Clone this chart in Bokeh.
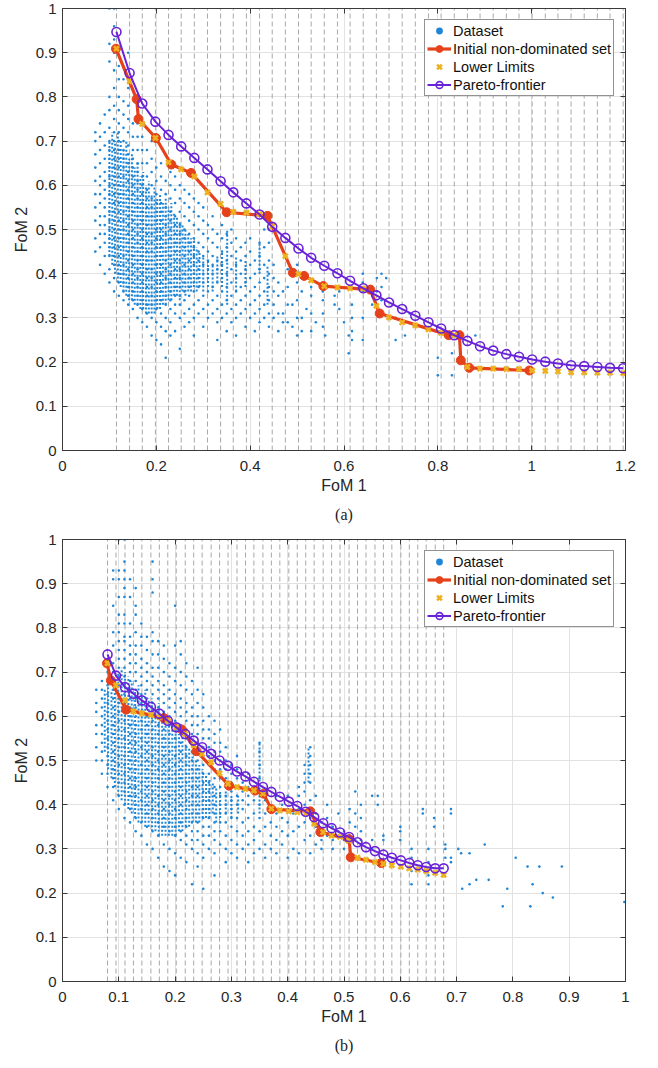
from bokeh.plotting import figure
from bokeh.models import (Range1d, LinearAxis, FixedTicker, CustomJSTickFormatter,
                          Legend, LegendItem, Title)
from bokeh.layouts import column
from bokeh.embed import file_html
from bokeh.resources import INLINE

# ---------------- Panel (a) data ----------------
A_LL_X = [0.115, 0.143, 0.170, 0.198, 0.226, 0.253, 0.281, 0.309, 0.337, 0.364,
          0.392, 0.420, 0.447, 0.475, 0.503, 0.530, 0.558, 0.586, 0.613, 0.641,
          0.669, 0.696, 0.724, 0.752, 0.780, 0.807, 0.835, 0.863, 0.890, 0.918,
          0.946, 0.973, 1.001, 1.029, 1.056, 1.084, 1.112, 1.140, 1.167, 1.195]
A_LL_Y = [0.909, 0.835, 0.739, 0.707, 0.652, 0.636, 0.620, 0.584, 0.558, 0.540,
          0.538, 0.535, 0.507, 0.440, 0.399, 0.385, 0.372, 0.369, 0.367, 0.366,
          0.327, 0.301, 0.290, 0.283, 0.274, 0.266, 0.261, 0.189, 0.185, 0.185,
          0.184, 0.184, 0.181, 0.180, 0.179, 0.177, 0.177, 0.176, 0.176, 0.175]
A_PF_Y = [0.947, 0.854, 0.785, 0.744, 0.714, 0.688, 0.662, 0.636, 0.609, 0.584,
          0.559, 0.534, 0.506, 0.481, 0.457, 0.436, 0.418, 0.401, 0.384, 0.367,
          0.351, 0.335, 0.320, 0.305, 0.290, 0.276, 0.261, 0.248, 0.236, 0.226,
          0.218, 0.212, 0.206, 0.201, 0.197, 0.193, 0.191, 0.189, 0.187, 0.186]
A_INIT_X = [0.114, 0.158, 0.162, 0.199, 0.232, 0.274, 0.350, 0.437, 0.491, 0.515,
            0.556, 0.656, 0.676, 0.823, 0.846, 0.849, 0.867, 0.995]
A_INIT_Y = [0.909, 0.795, 0.750, 0.707, 0.647, 0.628, 0.539, 0.531, 0.402, 0.395,
            0.372, 0.364, 0.310, 0.261, 0.261, 0.204, 0.187, 0.181]
# dataset, dense vertical runs of points: column x, lowest y, highest y
A_COL_X = [0.100, 0.106, 0.112, 0.118, 0.124, 0.130, 0.136, 0.142, 0.148, 0.154,
           0.160, 0.166, 0.172, 0.178, 0.184, 0.190, 0.196, 0.202, 0.208, 0.214,
           0.220, 0.226, 0.232, 0.238, 0.244, 0.250, 0.256, 0.262, 0.268, 0.274,
           0.280, 0.286, 0.292, 0.300, 0.310, 0.320, 0.330, 0.340, 0.351, 0.370,
           0.390, 0.420, 0.437]
A_COL_LO = [0.44, 0.42, 0.40, 0.38, 0.37, 0.36, 0.35, 0.34, 0.34, 0.33,
            0.33, 0.32, 0.32, 0.31, 0.31, 0.31, 0.31, 0.32, 0.32, 0.33,
            0.33, 0.34, 0.34, 0.35, 0.35, 0.34, 0.36, 0.35, 0.36, 0.36,
            0.37, 0.36, 0.37, 0.36, 0.37, 0.36, 0.38, 0.37, 0.33, 0.36,
            0.37, 0.40, 0.33]
A_COL_HI = [0.70, 0.72, 0.70, 0.72, 0.70, 0.68, 0.70, 0.66, 0.67, 0.64,
            0.65, 0.62, 0.63, 0.60, 0.61, 0.58, 0.60, 0.57, 0.58, 0.56,
            0.57, 0.55, 0.56, 0.54, 0.53, 0.52, 0.51, 0.50, 0.49, 0.48,
            0.48, 0.46, 0.45, 0.44, 0.43, 0.42, 0.44, 0.45, 0.50, 0.44,
            0.43, 0.47, 0.42]
# dataset, individual points: "x: y values in hundredths"
A_DATA = """
0.07: 45 48 52 55 58 61 64 67 70 72
0.08: 42 46 49 51 53 56 58 60 62 65 68 71 74
0.09: 40 44 47 49 51 53 55 57 59 61 63 66 69 72 76
0.10: 38 41 44 46 48 50 52 54 56 58 60 62 64 66 68 70 73 77 80 88 92 100
0.11: 36 39 42 44 46 48 50 52 54 56 58 60 62 64 66 68 70 72 75 78 82 86 90 93 96 100
0.12: 35 38 40 42 44 46 48 50 52 54 56 58 60 62 64 66 68 70 72 74 77 80 84 87 91
0.13: 34 36 38 40 42 44 46 48 50 52 54 56 58 60 62 64 66 68 70 73 76 79 84
0.14: 33 35 37 39 41 43 45 47 49 51 53 55 57 59 61 63 65 67 69 72 75 78 82 90
0.15: 32 34 36 38 40 42 44 46 48 50 52 54 56 58 60 62 64 66 68 71 74
0.16: 30 33 35 37 39 41 43 45 47 49 51 53 55 57 59 61 63 65 68 71 74 77
0.17: 29 32 34 36 38 40 42 44 46 48 50 52 54 56 58 60 62 65 68 71
0.18: 28 31 33 35 37 39 41 43 45 47 49 51 53 55 57 59 62 65 68
0.19: 26 30 33 35 37 39 41 43 45 47 49 51 53 55 57 60 63 66 70
0.20: 25 29 32 34 36 38 40 42 44 46 48 50 52 54 56 58 61 64
0.21: 24 28 31 34 36 38 40 42 44 46 48 50 52 54 56 59 62 65
0.22: 21 27 30 33 35 37 39 41 43 45 47 49 51 53 55 58 61
0.23: 26 29 32 34 36 38 40 42 44 46 48 50 52 54 57 60 63
0.24: 27 31 33 35 37 39 41 43 45 47 49 51 53 56 59 62
0.25: 23 30 33 35 37 39 41 43 45 47 49 51 54 57 60
0.26: 28 31 34 36 38 40 42 44 46 48 50 53 56 59
0.27: 29 32 35 37 39 41 43 45 47 49 52 55 58
0.28: 26 30 33 36 38 40 42 44 46 48 51 54 57
0.29: 31 34 37 39 41 43 45 47 50 53 56
0.30: 28 32 35 38 40 42 44 46 49 52 55
0.31: 30 33 36 39 41 43 45 48 51
0.32: 31 34 37 40 42 44 47 50 53
0.33: 25 29 32 35 38 41 43 46 49
0.34: 30 33 36 39 42 45 48 51
0.35: 27 31 34 37 40 43 46 49
0.36: 29 32 35 38 41 44 47 50
0.37: 26 30 33 36 39 42 45 48
0.38: 31 34 37 40 43 46
0.39: 28 32 35 38 41 44 47
0.40: 30 33 36 39 42 45 48
0.41: 27 31 34 37 40 43
0.42: 29 32 35 38 41 44 47
0.43: 30 33 36 39 42 46 50 53
0.44: 28 31 34 37 40 43 47 50 52
0.45: 30 33 36 39 42
0.46: 27 31 35 38
0.47: 36 31 29
0.48: 29 33 37 41
0.49: 33 28
0.50: 26 30 34 38 42
0.51: 36 30 27
0.52: 32
0.53: 37 35 31 27
0.54: 29
0.555: 36 34 31 28
0.56: 26
0.58: 35 33
0.59: 36 32
0.60: 29
0.61: 26 22
0.617: 33 30 27 25
0.64: 40 38 36 30 25
0.66: 33
0.67: 39 36
0.68: 40 37 34
0.69: 39
0.71: 30 25
0.73: 29 26
0.74: 31
0.80: 21 17
0.83: 22 17
0.88: 26
"""

# ---------------- Panel (b) data ----------------
B_LL_X = [0.080, 0.095, 0.111, 0.126, 0.141, 0.157, 0.172, 0.187, 0.202, 0.218,
          0.233, 0.248, 0.264, 0.279, 0.294, 0.310, 0.325, 0.340, 0.356, 0.371,
          0.386, 0.402, 0.417, 0.432, 0.447, 0.463, 0.478, 0.493, 0.509, 0.524,
          0.539, 0.555, 0.570, 0.585, 0.601, 0.616, 0.631, 0.646, 0.662, 0.677]
B_LL_Y = [0.720, 0.670, 0.636, 0.611, 0.607, 0.603, 0.598, 0.590, 0.575, 0.560,
          0.534, 0.515, 0.496, 0.471, 0.447, 0.440, 0.436, 0.432, 0.425, 0.391,
          0.387, 0.385, 0.383, 0.381, 0.357, 0.338, 0.330, 0.327, 0.319, 0.280,
          0.275, 0.270, 0.266, 0.263, 0.260, 0.256, 0.253, 0.250, 0.246, 0.241]
B_PF_Y = [0.740, 0.692, 0.666, 0.651, 0.636, 0.621, 0.606, 0.590, 0.575, 0.560,
          0.545, 0.530, 0.515, 0.500, 0.488, 0.475, 0.464, 0.452, 0.440, 0.429,
          0.418, 0.407, 0.397, 0.384, 0.372, 0.358, 0.347, 0.337, 0.327, 0.315,
          0.304, 0.295, 0.287, 0.280, 0.274, 0.268, 0.263, 0.259, 0.256, 0.256]
B_INIT_X = [0.079, 0.086, 0.113, 0.180, 0.212, 0.238, 0.296, 0.342, 0.357, 0.371,
            0.440, 0.458, 0.509, 0.512, 0.566]
B_INIT_Y = [0.720, 0.681, 0.615, 0.596, 0.570, 0.521, 0.443, 0.432, 0.425, 0.390,
            0.385, 0.338, 0.322, 0.281, 0.268]
B_COL_X = [0.075, 0.081, 0.087, 0.093, 0.099, 0.105, 0.111, 0.117, 0.123, 0.129,
           0.135, 0.141, 0.147, 0.153, 0.159, 0.165, 0.171, 0.177, 0.183, 0.189,
           0.195, 0.201, 0.207, 0.213, 0.219, 0.225, 0.231, 0.237, 0.243, 0.249,
           0.255, 0.261, 0.267, 0.273, 0.280, 0.290, 0.300, 0.312, 0.350, 0.437]
B_COL_LO = [0.52, 0.48, 0.46, 0.44, 0.42, 0.41, 0.40, 0.39, 0.38, 0.37,
            0.36, 0.36, 0.35, 0.35, 0.34, 0.34, 0.33, 0.33, 0.33, 0.33,
            0.33, 0.33, 0.34, 0.34, 0.35, 0.35, 0.36, 0.36, 0.36, 0.37,
            0.37, 0.37, 0.38, 0.36, 0.37, 0.38, 0.37, 0.38, 0.38, 0.45]
B_COL_HI = [0.66, 0.68, 0.66, 0.68, 0.70, 0.71, 0.70, 0.69, 0.68, 0.66,
            0.67, 0.65, 0.66, 0.64, 0.64, 0.62, 0.63, 0.61, 0.60, 0.60,
            0.58, 0.58, 0.56, 0.56, 0.54, 0.53, 0.52, 0.50, 0.49, 0.48,
            0.47, 0.46, 0.45, 0.44, 0.43, 0.43, 0.42, 0.42, 0.54, 0.53]
B_DATA = """
0.06: 50 53 56 58 61 63 66
0.07: 47 50 52 54 56 58 60 62 64 66 68
0.08: 44 47 49 51 53 55 57 59 61 63 65 67 70 72
0.09: 41 44 46 48 50 52 54 56 58 60 62 64 66 68 70 72 76 79 85 91 93
0.10: 39 42 45 47 49 51 53 55 57 59 61 63 65 67 69 71 73 75 77 79 81 83 87 91 93 100
0.11: 37 40 43 45 47 49 51 53 55 57 59 61 63 65 67 69 71 73 75 77 78 81 83 87 89 91 93 95 100
0.12: 36 39 42 44 46 48 50 52 54 56 58 60 62 64 66 68 70 72 74 76 78 81 87 91
0.13: 34 37 40 42 44 46 48 50 52 54 56 58 60 62 64 66 68 70 72 74 76 79 83 85 89
0.14: 33 36 39 41 43 45 47 49 51 53 55 57 59 61 63 65 67 69 71 73 76 78 81
0.15: 31 35 38 40 42 44 46 48 50 52 54 56 58 60 62 64 66 68 70 72 75 78
0.16: 30 34 37 39 41 43 45 47 49 51 53 55 57 59 61 63 65 67 69 71 74 77 79 88 91 95
0.17: 28 33 36 38 40 42 44 46 48 50 52 54 56 58 60 62 64 66 68 71 74 77
0.18: 26 31 35 37 39 41 43 45 47 49 51 53 55 57 59 61 63 65 67 70 73 76
0.19: 25 30 34 36 38 40 42 44 46 48 50 52 54 56 58 60 62 64 66 69 72
0.20: 24 29 33 35 37 39 41 43 45 47 49 51 53 55 57 59 61 63 65 68 71 76 85
0.21: 28 32 34 36 38 40 42 44 46 48 50 52 54 56 58 60 62 64 67 70 74 77
0.22: 27 31 33 35 37 39 41 43 45 47 49 51 53 55 57 59 61 63 66 69 72
0.23: 22 30 32 34 36 38 40 42 44 46 48 50 52 54 56 58 60 62 65 68
0.24: 26 29 32 34 36 38 40 42 44 46 48 50 52 54 56 58 60 63 66 71
0.25: 21 28 31 33 35 37 39 41 43 45 47 49 51 53 55 57 59 62 65
0.26: 30 33 35 37 39 41 43 45 47 49 51 53 55 57 60
0.27: 24 29 32 34 36 38 40 42 44 46 48 50 52 54 56 59
0.28: 31 34 36 38 40 42 44 46 48 50 52 54 57
0.29: 27 30 33 36 38 40 42 44 46 48 50 53
0.30: 29 32 35 37 39 41 43 45 47 49
0.31: 28 31 34 37 40 42 44 46 48 51
0.32: 30 33 36 39 41 43 45 47
0.33: 27 31 34 37 40 42 44 47
0.34: 29 32 35 38 41 44
0.35: 30 34 37 40 43 46 49 52 54
0.36: 28 31 35 38 41
0.37: 30 33 36 39
0.38: 29 32 35 38 42
0.39: 31 34 37 40
0.40: 28 33 36 39 42
0.41: 30 34 38
0.42: 29 35 39 42 44
0.43: 32 36 40 43 45 47 49
0.44: 29 33 37 41 45 47 49 51 53
0.45: 31 35 38 42
0.46: 30 32 34 36
0.47: 33 37 40
0.48: 30 32 35
0.49: 34 38
0.50: 30 32 34
0.51: 33 36 39
0.52: 32 35 38 43
0.53: 32 34 37 40
0.55: 30 32 42
0.56: 40 42
0.57: 32 33
0.60: 32 34 35
0.62: 22 25 28 30
0.64: 38 39
0.65: 22 24 27 30
0.66: 35 37
0.68: 28 30 31
0.69: 27 28 38 39
0.703: 30
0.708: 29
0.71: 21
0.723: 29 22
0.735: 23
0.75: 31
0.757: 23
0.782: 17
0.79: 21
0.805: 28
0.826: 26
0.831: 17
0.835: 22
0.847: 26
0.853: 20
0.871: 19
0.887: 26
0.998: 18
"""

BLUE = "#1f86d6"
RED = "#e5421b"
YEL = "#edb120"
PUR = "#6a22d8"
AX = "#3a3a3a"
FONT = "Liberation Sans"


def parse(txt):
    xs, ys = [], []
    for line in txt.strip().splitlines():
        xv, vals = line.split(":")
        for v in vals.split():
            xs.append(float(xv))
            ys.append(int(v) / 100.0)
    return xs, ys


def tick_fmt():
    return CustomJSTickFormatter(code="return String(Math.round(tick*10)/10);")


def panel(xmax, xticks, ll_x, ll_y, pf_y, init_x, init_y, col_x, col_lo, col_hi,
          data, caption, height, btop, bright, bbottom):
    dx, dy = parse(data)
    p = figure(width=658, height=height, output_backend="svg", toolbar_location=None,
               x_range=Range1d(0, xmax), y_range=Range1d(0, 1),
               min_border_left=62, min_border_right=bright, min_border_top=btop,
               min_border_bottom=bbottom)
    p.background_fill_color = "white"
    p.outline_line_color = AX
    p.outline_line_width = 1

    yticks = [0, 0.1, 0.2, 0.3, 0.4, 0.5, 0.6, 0.7, 0.8, 0.9, 1.0]
    for ax, tk in ((p.xaxis[0], xticks), (p.yaxis[0], yticks)):
        ax.ticker = FixedTicker(ticks=tk)
        ax.formatter = tick_fmt()
        ax.major_tick_in = 5
        ax.major_tick_out = 0
        ax.minor_tick_line_color = None
        ax.axis_line_color = AX
        ax.major_tick_line_color = AX
        ax.major_label_text_font = FONT
        ax.major_label_text_font_size = "15px"
        ax.major_label_text_color = "#262626"
        ax.axis_label_text_font = FONT
        ax.axis_label_text_font_size = "16px"
        ax.axis_label_text_font_style = "normal"
        ax.axis_label_text_color = "#262626"
    p.xaxis.axis_label = "FoM 1"
    p.yaxis.axis_label = "FoM 2"
    p.xaxis.major_label_standoff = 10
    p.xaxis.axis_label_standoff = 3
    p.yaxis.major_label_standoff = 6
    p.yaxis.axis_label_standoff = 3

    # box ticks on the top and right sides (no labels)
    for loc, tk in (("above", xticks), ("right", yticks)):
        ax = LinearAxis(ticker=FixedTicker(ticks=tk), formatter=tick_fmt(),
                        major_label_text_font_size="1px", major_label_text_color=None,
                        major_label_standoff=0,
                        major_tick_in=5, major_tick_out=0,
                        minor_tick_line_color=None, axis_line_color=AX,
                        major_tick_line_color=AX)
        p.add_layout(ax, loc)

    p.xgrid.ticker = FixedTicker(ticks=xticks)
    p.ygrid.ticker = FixedTicker(ticks=yticks)
    p.xgrid.grid_line_color = "#e2e2e2"
    p.ygrid.grid_line_color = "#e2e2e2"

    # vertical dashed lines at the lower-limit positions
    p.segment(x0=ll_x, y0=[0] * len(ll_x), x1=ll_x, y1=[1] * len(ll_x),
              line_color="#a8a8a8", line_width=1, line_dash="5 3")

    # dense vertical runs of dataset points
    p.segment(x0=col_x, y0=col_lo, x1=col_x, y1=col_hi, line_color=BLUE,
              line_width=2, line_dash="2 2")
    r_data = p.scatter(dx, dy, size=2.6, marker="circle", fill_color=BLUE,
                       line_color=None)
    r_il = p.line(init_x, init_y, line_color=RED, line_width=3.2)
    r_im = p.scatter(init_x, init_y, size=9, marker="circle", fill_color=RED,
                     line_color=RED)
    r_ll = p.scatter(ll_x, ll_y, size=7, marker="x", line_color=YEL, line_width=2.6)
    r_pl = p.line(ll_x, pf_y, line_color=PUR, line_width=2)
    r_pm = p.scatter(ll_x, pf_y, size=9, marker="circle", fill_color=None,
                     line_color=PUR, line_width=1.6)

    legend = Legend(items=[
        LegendItem(label="Dataset", renderers=[r_data]),
        LegendItem(label="Initial non-dominated set", renderers=[r_il, r_im]),
        LegendItem(label="Lower Limits", renderers=[r_ll]),
        LegendItem(label="Pareto-frontier", renderers=[r_pl, r_pm]),
    ], location="top_right")
    legend.border_line_color = "#262626"
    legend.border_line_width = 1
    legend.background_fill_color = "white"
    legend.background_fill_alpha = 1
    legend.label_text_font = FONT
    legend.label_text_font_size = "14.5px"
    legend.label_text_color = "#111111"
    legend.glyph_width = 24
    legend.glyph_height = 17
    legend.label_height = 17
    legend.label_standoff = 2
    legend.padding = 2
    legend.spacing = 1
    legend.margin = 11
    p.add_layout(legend)

    p.add_layout(Title(text=caption, align="center", text_font="Liberation Serif",
                       text_font_size="16px", text_font_style="normal",
                       text_color="#222222", standoff=14), "below")
    return p


pa = panel(1.2, [0, 0.2, 0.4, 0.6, 0.8, 1.0, 1.2], A_LL_X, A_LL_Y, A_PF_Y,
           A_INIT_X, A_INIT_Y, A_COL_X, A_COL_LO, A_COL_HI, A_DATA, "(a)",
           530, 8, 33, 80)
pb = panel(1.0, [0, 0.1, 0.2, 0.3, 0.4, 0.5, 0.6, 0.7, 0.8, 0.9, 1.0], B_LL_X, B_LL_Y,
           B_PF_Y, B_INIT_X, B_INIT_Y, B_COL_X, B_COL_LO, B_COL_HI, B_DATA, "(b)",
           536, 9, 17, 85)

layout = column(pa, pb, spacing=0)
open("out.html", "w").write(file_html(layout, INLINE))
